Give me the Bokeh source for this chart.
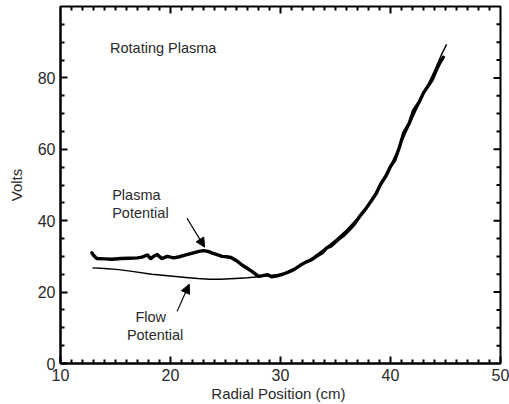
from bokeh.plotting import figure
from bokeh.models import (FixedTicker, Label, Arrow, NormalHead, Range1d)
from bokeh.embed import file_html
from bokeh.resources import INLINE

# ---- data ----
plasma_x = [12.85, 13.0, 13.3, 14.0, 14.7, 15.5, 16.2, 17.0, 17.4, 17.9, 18.2, 18.5, 18.8,
            19.2, 19.7, 20.3, 20.8, 21.4, 22.0, 22.6, 23.0, 23.4, 23.8, 24.3, 24.7, 25.1,
            25.5, 26.0, 26.5, 27.0, 27.4, 28.0, 28.4, 28.8, 29.2, 29.6, 30.2, 30.7, 31.2,
            31.8, 32.3, 32.8, 33.3, 33.8, 34.2, 34.6, 35.2, 35.7, 36.2, 36.7, 37.2, 37.7,
            38.2, 38.7, 39.1, 39.6, 40.0, 40.4, 40.8, 41.2, 41.7, 42.1, 42.6, 43.0, 43.3,
            43.8, 44.2, 44.5, 44.8]
plasma_v = [31.0, 30.3, 29.4, 29.3, 29.2, 29.4, 29.5, 29.6, 29.8, 30.4, 29.4, 30.1, 30.5,
            29.4, 30.0, 29.6, 29.9, 30.4, 30.9, 31.4, 31.6, 31.4, 30.9, 30.4, 30.0, 29.9,
            29.7, 28.8, 27.6, 26.6, 25.8, 24.4, 24.6, 24.9, 24.3, 24.5, 25.0, 25.6, 26.3,
            27.5, 28.4, 29.0, 30.1, 31.0, 32.4, 32.9, 34.6, 35.8, 37.3, 39.0, 41.2, 43.1,
            45.3, 47.6, 50.2, 52.6, 55.2, 57.0, 60.5, 64.6, 67.3, 70.9, 73.2, 75.8, 77.2,
            79.5, 82.4, 84.3, 85.8]

flow_x = [12.9, 14.0, 15.3, 16.5, 18.3, 20.0, 21.4, 22.5, 23.5, 24.5, 25.9, 27.0, 28.0,
          29.0, 30.0, 30.5, 31.0, 32.0, 33.0, 34.0, 35.0, 36.0, 37.0, 38.0, 39.0, 40.0,
          41.0, 42.0, 43.0, 44.0, 44.6, 45.1]
flow_v = [26.8, 26.6, 26.3, 25.8, 25.0, 24.5, 24.1, 23.8, 23.6, 23.6, 23.8, 24.0, 24.3,
          24.6, 25.0, 25.3, 25.9, 27.8, 29.8, 32.1, 34.6, 37.4, 40.7, 44.6, 49.6, 55.4,
          62.0, 68.8, 75.4, 82.0, 86.3, 89.4]

x_major = [10, 20, 30, 40, 50]
y_major = [0, 20, 40, 60, 80]
x_minor = [v for v in range(11, 50) if v % 10]
y_minor = [v for v in range(5, 100, 5) if v % 20]

X0, X1, Y0, Y1 = 10, 50, 0, 100
FONT = "Liberation Sans"
TXT = "#2a2a2a"
MAJ, MIN = 7, 4

p = figure(width=509, height=404, x_range=Range1d(X0, X1), y_range=Range1d(Y0, Y1),
           output_backend="svg", toolbar_location=None,
           min_border_left=60, min_border_right=9, min_border_top=6, min_border_bottom=40,
           x_axis_label="Radial Position  (cm)", y_axis_label="Volts")
p.background_fill_color = "white"
p.border_fill_color = "white"
p.grid.visible = False
p.outline_line_color = "black"
p.outline_line_width = 2


def style(ax):
    ax.axis_line_color = "black"
    ax.axis_line_width = 2
    ax.major_tick_in = MAJ
    ax.major_tick_out = 0
    ax.minor_tick_in = MIN
    ax.minor_tick_out = 0
    ax.major_tick_line_color = "black"
    ax.minor_tick_line_color = "black"
    ax.major_tick_line_width = 2
    ax.minor_tick_line_width = 2
    ax.major_label_text_font = FONT
    ax.major_label_text_color = TXT
    ax.major_label_text_font_size = "16px"
    ax.axis_label_text_font = FONT
    ax.axis_label_text_font_size = "15px"
    ax.axis_label_text_font_style = "normal"
    ax.axis_label_text_color = TXT


xa = p.xaxis[0]
xa.ticker = FixedTicker(ticks=x_major, minor_ticks=x_minor)
style(xa)
xa.major_label_standoff = 5
xa.axis_label_standoff = 1

ya = p.yaxis[0]
ya.ticker = FixedTicker(ticks=y_major, minor_ticks=y_minor)
style(ya)
ya.major_label_standoff = 5
ya.axis_label_standoff = 10

# ticks on the top and right frame edges (inside), lengths in screen pixels via data units
px_x = (X1 - X0) / 440.0
px_y = (Y1 - Y0) / 358.0
tx = x_major[1:-1] + x_minor
tl = [MAJ] * (len(x_major) - 2) + [MIN] * len(x_minor)
p.segment(x0=tx, y0=[Y1] * len(tx), x1=tx, y1=[Y1 - l * px_y for l in tl],
          line_color="black", line_width=2)
ty = y_major[1:] + y_minor
tl2 = [MAJ] * (len(y_major) - 1) + [MIN] * len(y_minor)
p.segment(x0=[X1] * len(ty), y0=ty, x1=[X1 - l * px_x for l in tl2], y1=ty,
          line_color="black", line_width=2)

p.line(flow_x, flow_v, line_color="black", line_width=1.4, line_join="round")
p.line(plasma_x, plasma_v, line_color="black", line_width=3.4, line_join="round",
       line_cap="round")

p.add_layout(Arrow(end=NormalHead(size=9, line_color="black", fill_color="black", line_width=1),
                   x_start=21.5, y_start=40.7, x_end=23.1, y_end=32.6,
                   line_color="black", line_width=1.2))
p.add_layout(Arrow(end=NormalHead(size=9, line_color="black", fill_color="black", line_width=1),
                   x_start=20.6, y_start=14.6, x_end=21.7, y_end=22.2,
                   line_color="black", line_width=1.2))

labels = [
    ("Rotating Plasma", 14.5, 88.5, "left"),
    ("Plasma", 14.7, 47.2, "left"),
    ("Potential", 14.7, 42.2, "left"),
    ("Flow", 18.2, 13.1, "center"),
    ("Potential", 18.6, 8.1, "center"),
]
for t, x, y, al in labels:
    p.add_layout(Label(x=x, y=y, text=t, text_font=FONT, text_font_size="14.5px",
                       text_color=TXT, text_align=al, text_baseline="middle"))

open("out.html", "w").write(file_html(p, INLINE))
